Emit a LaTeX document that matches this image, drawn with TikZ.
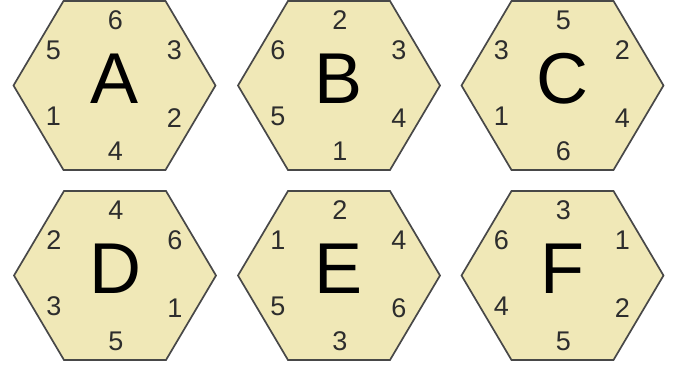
\documentclass[tikz,border=0pt]{standalone}
\usepackage{fontspec}
\setmainfont{Liberation Sans}
\definecolor{diefill}{RGB}{240,232,183}
\definecolor{dieedge}{RGB}{72,72,72}
\definecolor{pipgray}{RGB}{45,45,45}

\begin{document}
\begin{tikzpicture}[x=1pt,y=-1pt,
    face/.style={fill=diefill,draw=dieedge,line width=1.7pt},
    pip/.style={font=\fontsize{27}{27}\selectfont,text=pipgray,inner sep=0pt},
    letter/.style={font=\fontsize{72}{72}\selectfont,text=black,inner sep=0pt}]
  \useasboundingbox (0,0) rectangle (681,367);
  % one hexagon per die: name/centre/top/upper left/upper right/lower left/lower right/bottom
  \foreach \nm/\cx/\cy/\t/\ul/\ur/\ll/\lr/\b in {
      A/114.5/85.5/6/5/3/1/2/4,
      B/339/85.5/2/6/3/5/4/1,
      C/562.5/85.5/5/3/2/1/4/6,
      D/115/275.5/4/2/6/3/1/5,
      E/339/275.5/2/1/4/5/6/3,
      F/562.5/275.5/3/6/1/4/2/5}
  {
    \draw[face] (\cx-101,\cy) -- ++(50,-84.5) -- ++(102,0) -- ++(50,84.5)
      -- ++(-50,84.5) -- ++(-102,0) -- cycle;
    \node[letter] (\nm) at (\cx,\cy-6.5) {\nm};
    \node[pip] (\nm-t) at (\cx+1,\cy-65) {\t};
    \node[pip] (\nm-ul) at (\cx-61,\cy-35) {\ul};
    \node[pip] (\nm-ur) at (\cx+60,\cy-35) {\ur};
    \node[pip] (\nm-ll) at (\cx-61,\cy+31) {\ll};
    \node[pip] (\nm-lr) at (\cx+60,\cy+33) {\lr};
    \node[pip] (\nm-b) at (\cx+1,\cy+66) {\b};
  }
\end{tikzpicture}
\end{document}
